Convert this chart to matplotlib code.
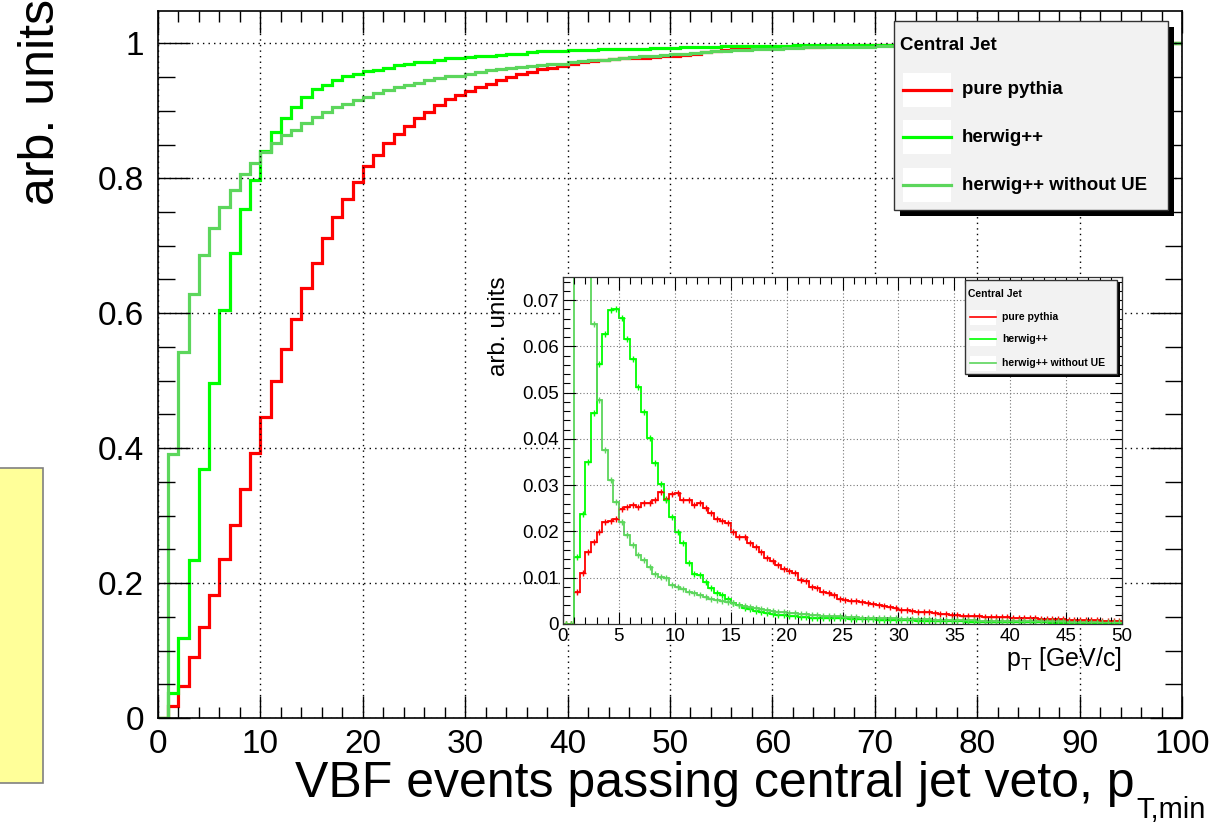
import numpy as np
import matplotlib
matplotlib.use("Agg")
import matplotlib.pyplot as plt
from matplotlib.patches import Rectangle
from matplotlib.lines import Line2D
from matplotlib.ticker import MultipleLocator, FormatStrFormatter

plt.rcParams['font.family'] = ['Liberation Sans', 'DejaVu Sans']
plt.rcParams['mathtext.fontset'] = 'custom'
plt.rcParams['mathtext.rm'] = 'Liberation Sans'

# ---- data ----
labels = ['pure pythia', 'herwig++', 'herwig++ without UE']
colors = ['#ff0000', '#00ff00', '#5cd65c']

# main plot: fraction of events passing the veto, 1 GeV bins from 0 to 100
cut_edges = np.arange(0, 101, 1)
pythia_cum = [0, 0.018, 0.048, 0.091, 0.135, 0.183, 0.236, 0.286, 0.339, 0.393,
              0.446, 0.499, 0.547, 0.592, 0.638, 0.675, 0.711, 0.742, 0.770, 0.794,
              0.818, 0.834, 0.852, 0.865, 0.878, 0.890, 0.899, 0.909, 0.917, 0.924,
              0.930, 0.935, 0.940, 0.945, 0.950, 0.955, 0.958, 0.962, 0.964, 0.967,
              0.970, 0.972, 0.974, 0.975, 0.977, 0.978, 0.978, 0.979, 0.980, 0.981,
              0.982, 0.983, 0.985, 0.987, 0.989, 0.990, 0.991, 0.992, 0.993, 0.993,
              0.994, 0.994, 0.995, 0.995, 0.995, 0.996, 0.996, 0.996, 0.997, 0.997,
              0.997, 0.997, 0.998, 0.998, 0.998, 0.998, 0.998, 0.999, 0.999, 0.999,
              0.999, 0.999, 0.999, 0.999, 0.999, 1.0, 1.0, 1.0, 1.0, 1.0,
              1.0, 1.0, 1.0, 1.0, 1.0, 1.0, 1.0, 1.0, 1.0, 1.0]
herwig_cum = [0, 0.0375, 0.118, 0.234, 0.369, 0.496, 0.605, 0.689, 0.754, 0.798,
              0.841, 0.868, 0.890, 0.906, 0.920, 0.932, 0.938, 0.946, 0.951, 0.955,
              0.959, 0.961, 0.964, 0.968, 0.970, 0.973, 0.973, 0.975, 0.978, 0.978,
              0.980, 0.981, 0.982, 0.983, 0.985, 0.985, 0.987, 0.988, 0.988, 0.989,
              0.990, 0.990, 0.990, 0.991, 0.991, 0.992, 0.992, 0.992, 0.993, 0.993,
              0.993, 0.994, 0.994, 0.994, 0.994, 0.996, 0.996, 0.996, 0.996, 0.996,
              0.996, 0.996, 0.997, 0.997, 0.997, 0.997, 0.997, 0.997, 0.997, 0.997,
              0.998, 0.998, 0.998, 0.998, 0.998, 0.998, 0.998, 0.998, 0.998, 0.998,
              0.999, 0.999, 0.999, 0.999, 0.999, 0.999, 0.999, 0.999, 0.999, 0.999,
              0.999, 0.999, 0.999, 0.999, 0.999, 0.999, 0.999, 0.999, 1.0, 1.0]
noue_cum = [0, 0.391, 0.543, 0.629, 0.687, 0.727, 0.758, 0.783, 0.807, 0.823,
            0.839, 0.852, 0.864, 0.872, 0.882, 0.891, 0.898, 0.905, 0.910, 0.916,
            0.921, 0.926, 0.931, 0.935, 0.938, 0.942, 0.946, 0.948, 0.951, 0.952,
            0.954, 0.958, 0.960, 0.962, 0.964, 0.965, 0.967, 0.968, 0.969, 0.970,
            0.972, 0.974, 0.975, 0.976, 0.977, 0.979, 0.980, 0.981, 0.982, 0.983,
            0.984, 0.985, 0.986, 0.987, 0.988, 0.989, 0.990, 0.990, 0.991, 0.992,
            0.992, 0.993, 0.993, 0.994, 0.994, 0.994, 0.995, 0.995, 0.995, 0.995,
            0.996, 0.996, 0.996, 0.996, 0.996, 0.997, 0.997, 0.997, 0.997, 0.997,
            0.998, 0.998, 0.998, 0.998, 0.998, 0.998, 0.998, 0.998, 0.998, 0.998,
            0.999, 0.999, 0.999, 0.999, 0.999, 0.999, 0.999, 0.999, 1.0, 1.0]

# inset: pT spectrum of the central jet, 0.5 GeV bins from 0 to 50
pt_edges = np.arange(0, 50.5, 0.5)
pythia_pt = [0, 0, 0.0070, 0.0111, 0.0156, 0.0178, 0.0199, 0.0220, 0.0223, 0.0228,
             0.0248, 0.0252, 0.0257, 0.0252, 0.0262, 0.0262, 0.0269, 0.0286, 0.0271, 0.0281,
             0.0284, 0.0268, 0.0269, 0.0257, 0.0261, 0.0250, 0.0240, 0.0228, 0.0223, 0.0219,
             0.0199, 0.0189, 0.0189, 0.0174, 0.0167, 0.0156, 0.0142, 0.0137, 0.0127, 0.0118,
             0.0115, 0.0111, 0.0095, 0.0094, 0.0081, 0.0078, 0.0070, 0.0066, 0.0063, 0.0055,
             0.0052, 0.0050, 0.0050, 0.0048, 0.0046, 0.0044, 0.0041, 0.0038, 0.0036, 0.0034,
             0.0031, 0.0030, 0.0029, 0.0027, 0.0026, 0.0025, 0.0023, 0.0022, 0.0021, 0.0020,
             0.0019, 0.0018, 0.0018, 0.0017, 0.0017, 0.0016, 0.0016, 0.0016, 0.0015, 0.0015,
             0.0014, 0.0013, 0.0013, 0.0012, 0.0012, 0.0011, 0.0011, 0.0010, 0.0010, 0.0010,
             0.0009, 0.0009, 0.0009, 0.0008, 0.0008, 0.0008, 0.0007, 0.0007, 0.0007, 0.0006]
herwig_pt = [0, 0, 0.0145, 0.0237, 0.0351, 0.0455, 0.0561, 0.0626, 0.0678, 0.0680,
             0.0662, 0.0617, 0.0572, 0.0513, 0.0459, 0.0401, 0.0349, 0.0302, 0.0268, 0.0232,
             0.0198, 0.0176, 0.0131, 0.0109, 0.0105, 0.0091, 0.0077, 0.0068, 0.0063, 0.0055,
             0.0046, 0.0040, 0.0035, 0.0032, 0.0029, 0.0026, 0.0024, 0.0022, 0.0020, 0.0019,
             0.0018, 0.0017, 0.0016, 0.0015, 0.0014, 0.0014, 0.0013, 0.0013, 0.0012, 0.0012,
             0.0012, 0.0011, 0.0011, 0.0010, 0.0010, 0.0010, 0.0009, 0.0009, 0.0009, 0.0009,
             0.0008, 0.0008, 0.0008, 0.0007, 0.0007, 0.0007, 0.0007, 0.0007, 0.0006, 0.0006,
             0.0006, 0.0006, 0.0005, 0.0005, 0.0005, 0.0005, 0.0005, 0.0005, 0.0005, 0.0004,
             0.0004, 0.0004, 0.0004, 0.0004, 0.0004, 0.0004, 0.0004, 0.0003, 0.0003, 0.0003,
             0.0003, 0.0003, 0.0003, 0.0003, 0.0003, 0.0003, 0.0003, 0.0002, 0.0002, 0.0002]
noue_pt = [0, 0, 0.21, 0.18, 0.087, 0.0649, 0.0484, 0.0376, 0.0312, 0.0264,
           0.0220, 0.0192, 0.0171, 0.0149, 0.0138, 0.0124, 0.0109, 0.0101, 0.0099, 0.0084,
           0.0081, 0.0075, 0.0070, 0.0068, 0.0063, 0.0059, 0.0055, 0.0052, 0.0050, 0.0048,
           0.0045, 0.0041, 0.0039, 0.0036, 0.0034, 0.0032, 0.0030, 0.0028, 0.0027, 0.0025,
           0.0024, 0.0023, 0.0022, 0.0021, 0.0020, 0.0019, 0.0018, 0.0018, 0.0017, 0.0017,
           0.0016, 0.0015, 0.0015, 0.0014, 0.0014, 0.0013, 0.0013, 0.0012, 0.0012, 0.0012,
           0.0011, 0.0011, 0.0011, 0.0010, 0.0010, 0.0010, 0.0009, 0.0009, 0.0009, 0.0008,
           0.0008, 0.0008, 0.0008, 0.0008, 0.0007, 0.0007, 0.0007, 0.0007, 0.0007, 0.0007,
           0.0006, 0.0006, 0.0006, 0.0006, 0.0006, 0.0006, 0.0006, 0.0006, 0.0006, 0.0006,
           0.0005, 0.0005, 0.0005, 0.0005, 0.0005, 0.0005, 0.0004, 0.0004, 0.0004, 0.0004]

W, H = 1218, 825
def fx(px):
    return px / W
def fy(py):
    return 1 - py / H

fig = plt.figure(figsize=(W / 100, H / 100), dpi=100)
fig.patch.set_facecolor('white')

# yellow note box cut at the left edge
fig.add_artist(Rectangle((fx(-10), fy(783)), 53 / W, 315 / H, transform=fig.transFigure,
                         facecolor='#ffff99', edgecolor='#808080', lw=1.2))

# ---- main axes ----
ax = fig.add_axes([fx(158), fy(718), (1182 - 158) / W, (718 - 11) / H])
for vals, c in zip([pythia_cum, herwig_cum, noue_cum], colors):
    ax.stairs(vals, cut_edges, baseline=None, color=c, lw=2.3)
ax.set_xlim(0, 100)
ax.set_ylim(0, 1.048)
ax.xaxis.set_major_locator(MultipleLocator(10))
ax.xaxis.set_minor_locator(MultipleLocator(2))
ax.yaxis.set_major_locator(MultipleLocator(0.2))
ax.yaxis.set_minor_locator(MultipleLocator(0.05))
ax.yaxis.set_major_formatter(FormatStrFormatter('%g'))
ax.tick_params(which='both', direction='in', top=True, right=True, width=1, labelsize=24)
ax.tick_params(axis='x', which='major', length=16, pad=8)
ax.tick_params(axis='x', which='minor', length=8)
ax.tick_params(axis='y', which='major', length=23, pad=10)
ax.tick_params(axis='y', which='minor', length=12)
ax.grid(True, which='major', color='black', ls=(0, (1, 3)), lw=1)
for s in ax.spines.values():
    s.set_linewidth(1.2)

fig.text(fx(1135), fy(797), 'VBF events passing central jet veto, p', ha='right', va='baseline', fontsize=36)
fig.text(fx(1136), fy(818), 'T,min', ha='left', va='baseline', fontsize=21)
fig.text(fx(41), fy(102), 'arb. units', rotation=90, ha='center', va='center', fontsize=36)

# ---- inset ----
ins = fig.add_axes([fx(563), fy(624), (1122 - 563) / W, (624 - 277) / H])
ins.set_facecolor('white')
ctr = 0.5 * (pt_edges[:-1] + pt_edges[1:])
for vals, c in zip([pythia_pt, herwig_pt, noue_pt], colors):
    ins.stairs(vals, pt_edges, baseline=None, color=c, lw=1.3)
    ins.plot(ctr, vals, ls='none', marker='+', ms=4, mew=1, color=c)
ins.set_xlim(0, 50)
ins.set_ylim(0, 0.075)
ins.xaxis.set_major_locator(MultipleLocator(5))
ins.xaxis.set_minor_locator(MultipleLocator(1))
ins.yaxis.set_major_locator(MultipleLocator(0.01))
ins.yaxis.set_minor_locator(MultipleLocator(0.002))
ins.yaxis.set_major_formatter(FormatStrFormatter('%g'))
ins.tick_params(which='both', direction='in', top=True, right=True, width=0.8, labelsize=13.5)
ins.tick_params(which='major', length=9, pad=3)
ins.tick_params(which='minor', length=5)
ins.grid(True, which='major', color='#777777', ls=(0, (1, 2)), lw=0.8)
for s in ins.spines.values():
    s.set_linewidth(0.9)
    s.set_color('#333333')
fig.text(fx(1122), fy(666), r'p$_{\mathrm{T}}$ [GeV/c]', ha='right', va='baseline', fontsize=18)
fig.text(fx(499), fy(326), 'arb. units', rotation=90, ha='center', va='center', fontsize=17.5)


def draw_legend(x0, y0, x1, y1, shade, title_dx, title_y, rows_y, line_x0, line_x1, text_x, row_h, fs, lw):
    fig.add_artist(Rectangle((fx(x0 + shade), fy(y1 + shade)), (x1 - x0) / W, (y1 - y0) / H,
                             transform=fig.transFigure, facecolor='black', edgecolor='none', zorder=10))
    fig.add_artist(Rectangle((fx(x0), fy(y1)), (x1 - x0) / W, (y1 - y0) / H,
                             transform=fig.transFigure, facecolor='#f2f2f2', edgecolor='#333333',
                             lw=1, zorder=11))
    fig.text(fx(x0 + title_dx), fy(title_y), 'Central Jet', fontsize=fs,
             weight='bold', va='center', zorder=12)
    for lab, c, yc in zip(labels, colors, rows_y):
        fig.add_artist(Rectangle((fx(line_x0), fy(yc + row_h / 2)), (line_x1 - line_x0) / W, row_h / H,
                                 transform=fig.transFigure, facecolor='white', edgecolor='none', zorder=12))
        fig.add_artist(Line2D([fx(line_x0), fx(line_x1)], [fy(yc), fy(yc)], transform=fig.transFigure,
                              color=c, lw=lw, zorder=13))
        fig.text(fx(text_x), fy(yc), lab, fontsize=fs, weight='bold', va='center', zorder=13)


draw_legend(894, 21, 1168, 210, 6, 6, 45, [90, 137, 185], 903, 951, 962, 34, 13.5, 2.3)
draw_legend(965, 280, 1117, 374, 3, 3, 294, [317, 339, 363], 970, 996, 1002, 15, 7.5, 1.2)

fig.savefig('out.png', dpi=100)
